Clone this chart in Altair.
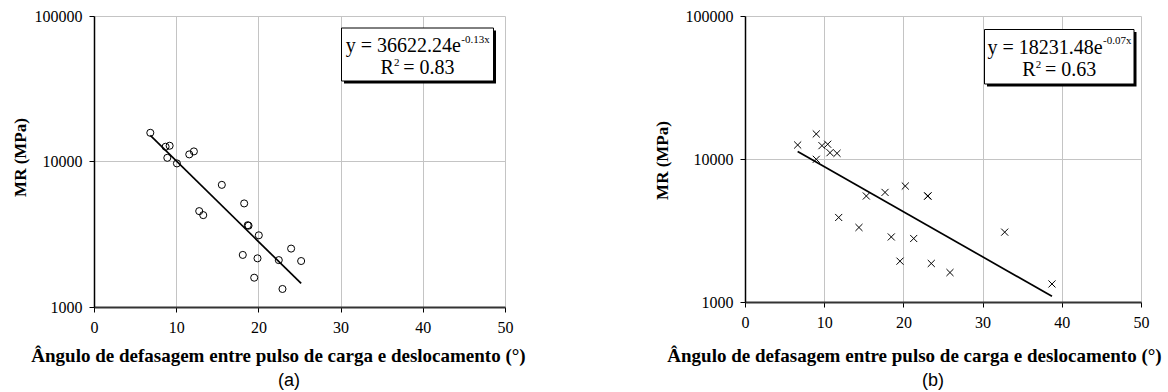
import altair as alt
import pandas as pd

# ---------------- data ----------------
a_angle = [6.85, 8.71, 9.2, 8.92, 10.09, 11.59, 12.15, 15.55, 18.27, 12.8, 13.29,
           18.7, 18.8, 20.05, 18.1, 19.89, 22.48, 23.98, 25.2, 19.49, 22.93]
a_mr = [15750, 12630, 12830, 10600, 9700, 11190, 11730, 6910, 5150, 4560, 4280,
        3650, 3620, 3110, 2280, 2160, 2100, 2520, 2070, 1590, 1330]

b_angle = [6.65, 9.0, 9.0, 9.72, 10.44, 10.73, 11.62, 11.83, 14.39, 15.32, 17.68,
           18.47, 20.24, 23.07, 23.1, 21.3, 19.57, 23.52, 25.88, 32.79, 38.76]
b_mr = [12530, 14970, 9950, 12400, 12680, 11070, 10960, 3900, 3320, 5510, 5840,
        2850, 6470, 5500, 5520, 2780, 1930, 1860, 1607, 3080, 1337]

x_ticks = [0, 10, 20, 30, 40, 50]
y_ticks = [1000, 10000, 100000]
x_title = "Ângulo de defasagem entre pulso de carga e deslocamento (°)"
y_title = "MR (MPa)"
eq_a = ["y = 36622.24e", "-0.13x", "0.83"]
eq_b = ["y = 18231.48e", "-0.07x", "0.63"]
panel_labels = ["(a)", "(b)"]

SERIF = "Liberation Serif, Times New Roman, serif"
SANS = "Liberation Sans, Arial, sans-serif"

# Times-like advance widths (em) used only to place the superscript pieces
_W = {' ': 0.25, '=': 0.564, '.': 0.25, '-': 0.333, 'e': 0.444, 'x': 0.5,
      'y': 0.5, 'R': 0.667}


def tw(s, size):
    return sum(_W.get(c, 0.5) for c in s) * size


AX = dict(labelFont=SERIF, labelFontSize=16, labelColor="black", labelPadding=7,
          labelFlush=False, labelOverlap=False,
          tickColor="black", tickSize=5, tickWidth=1,
          grid=True, gridColor="#c4c4c4", gridWidth=1,
          titleFont=SERIF, titleFontWeight="bold", titleColor="black")


def panel(xs, ys, eq, label, shape, W, H, geo):
    df = pd.DataFrame({"angle": xs, "mr": ys})
    xenc = alt.X("angle:Q",
                 scale=alt.Scale(domain=[0, 50], nice=False, zero=False),
                 axis=alt.Axis(values=x_ticks, title=x_title,
                               titleX=geo["xtx"], titleY=geo["xty"], titleFontSize=19,
                               titleAlign="center", titleBaseline="alphabetic",
                               domainColor="#333333", domainWidth=2, **AX))
    yenc = alt.Y("mr:Q",
                 scale=alt.Scale(type="log", domain=[1000, 100000], nice=False),
                 axis=alt.Axis(values=y_ticks, format="d", title=y_title,
                               titleX=geo["ytx"], titleY=geo["yty"], titleFontSize=17,
                               titleAlign="center", titleBaseline="middle",
                               titleAngle=270,
                               domainColor="#000000", domainWidth=1.5, **AX))
    base = alt.Chart(df)
    pts = base.mark_point(shape=shape, filled=False, color="black", size=50,
                          strokeWidth=1, opacity=1).encode(x=xenc, y=yenc)
    trend = (base
             .transform_calculate(lmr="log(datum.mr)")
             .transform_regression("angle", "lmr", method="linear")
             .transform_calculate(mr="exp(datum.lmr)")
             .mark_line(color="black", strokeWidth=1.7)
             .encode(x=xenc, y=yenc))

    one = alt.Data(values=[{"k": 1}])
    bx0, bx1, by0, by1 = geo["box"]
    shadow = alt.Chart(one).mark_rect(fill="black").encode(
        x=alt.value(bx0 + 2.5), x2=alt.value(bx1 + 2.5),
        y=alt.value(by0 + 2.5), y2=alt.value(by1 + 2.5))
    box = alt.Chart(one).mark_rect(fill="white", stroke="black", strokeWidth=1).encode(
        x=alt.value(bx0), x2=alt.value(bx1), y=alt.value(by0), y2=alt.value(by1))

    FS, SS = 20, 11
    cx = (bx0 + bx1) / 2
    w1 = tw(eq[0], FS) + tw(eq[1], SS)
    s1 = cx - w1 / 2
    e1 = s1 + tw(eq[0], FS)
    rest = "= " + eq[2]
    gap = 4
    w2 = tw("R", FS) + tw("2", SS) + gap + tw(rest, FS)
    s2 = cx - w2 / 2
    e2 = s2 + tw("R", FS)
    b1, b2 = geo["base1"], geo["base2"]

    def txt(t, x, y, size, align="left"):
        return alt.Chart(one).mark_text(text=t, align=align, baseline="alphabetic",
                                        font=SERIF, fontSize=size, color="black").encode(
            x=alt.value(x), y=alt.value(y))

    texts = [txt(eq[0], s1, b1, FS), txt(eq[1], e1 + 0.5, b1 - 9.5, SS),
             txt("R", s2, b2, FS), txt("2", e2 + 0.3, b2 - 8, SS),
             txt(rest, e2 + tw("2", SS) + gap, b2, FS)]

    lab = alt.Chart(one).mark_text(text=label, align="center", baseline="alphabetic",
                                   font=SANS, fontSize=18, color="black").encode(
        x=alt.value(geo["labx"]), y=alt.value(geo["laby"]))

    return alt.layer(pts, trend, shadow, box, *texts, lab).properties(width=W, height=H)


geo_a = dict(xtx=184, xty=54, ytx=-74, yty=141, box=(247.5, 399.5, 12, 65),
             base1=36, base2=58, labx=195, laby=370)
geo_b = dict(xtx=169, xty=59, ytx=-83, yty=144, box=(239.5, 389, 13.5, 68),
             base1=37.5, base2=60, labx=188, laby=370)

pa = panel(a_angle, a_mr, eq_a, panel_labels[0], "circle", 411, 291, geo_a)
cross = "M-1,-1L1,1M-1,1L1,-1"
pb = panel(b_angle, b_mr, eq_b, panel_labels[1], cross, 396, 286, geo_b)

chart = alt.hconcat(pa, pb, spacing=240, bounds="flush").configure(
    padding={"left": 11, "top": 8, "right": 2, "bottom": 0},
    background="white",
).configure_view(strokeWidth=0)

chart.save("out.html", embed_options={"renderer": "svg", "actions": False})
